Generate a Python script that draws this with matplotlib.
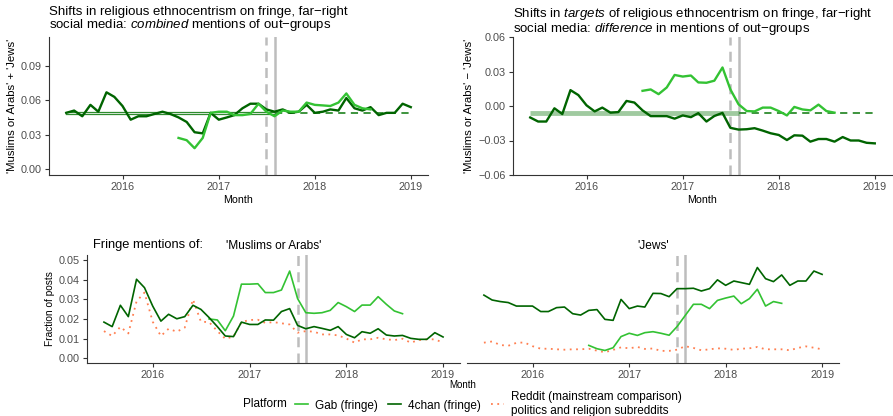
import numpy as np
import pandas as pd
import matplotlib
matplotlib.use('Agg')
import matplotlib.pyplot as plt
import matplotlib.dates as mdates
from matplotlib.lines import Line2D

plt.rcParams['font.family'] = ['Liberation Sans', 'DejaVu Sans']
plt.rcParams['mathtext.fontset'] = 'custom'
plt.rcParams['mathtext.rm'] = 'Liberation Sans'
plt.rcParams['mathtext.it'] = 'Liberation Sans:italic'

# monthly series
months_top = pd.date_range('2015-06-01', '2019-01-01', freq='MS')   # 44 months
months_bot = pd.date_range('2015-07-01', '2019-01-01', freq='MS')   # 43 months
months_gab = pd.date_range('2016-08-01', '2018-08-01', freq='MS')   # 25 months

# combined: 'Muslims or Arabs' + 'Jews'
comb_4chan = [0.049, 0.051, 0.046, 0.056, 0.050, 0.067, 0.063, 0.055, 0.043, 0.046,
              0.046, 0.048, 0.050, 0.048, 0.045, 0.041, 0.032, 0.031, 0.049, 0.043,
              0.045, 0.047, 0.053, 0.057, 0.057, 0.052, 0.050, 0.052, 0.049, 0.050,
              0.056, 0.049, 0.050, 0.052, 0.051, 0.062, 0.053, 0.051, 0.054, 0.047,
              0.049, 0.049, 0.057, 0.054]
comb_gab = [0.027, 0.025, 0.018, 0.027, 0.049, 0.050, 0.050, 0.047, 0.047, 0.048,
            0.057, 0.050, 0.046, 0.051, 0.050, 0.050, 0.058, 0.056, 0.0555, 0.055,
            0.058, 0.066, 0.056, 0.053, 0.052]
comb_pre = [0.0494, 0.0477]
comb_post = 0.049

# difference: 'Muslims or Arabs' - 'Jews'
diff_4chan = [-0.010, -0.0135, -0.0135, -0.002, -0.007, 0.0138, 0.0095, 0.0006, -0.0047, -0.0014,
              -0.0058, -0.0053, 0.0044, 0.003, -0.0038, -0.0088, -0.0088, -0.0088, -0.011, -0.0082,
              -0.0097, -0.0062, -0.0135, -0.0087, -0.006, -0.019, -0.0205, -0.0202, -0.0193, -0.0214,
              -0.0237, -0.0252, -0.0296, -0.0255, -0.0258, -0.031, -0.0287, -0.0287, -0.031, -0.027,
              -0.030, -0.030, -0.032, -0.0325]
diff_gab = [0.0132, 0.0144, 0.0103, 0.0161, 0.027, 0.0256, 0.0265, 0.0205, 0.0202, 0.022,
            0.0335, 0.0144, 0.0015, -0.0044, -0.0047, -0.0014, -0.0014, -0.0044, -0.0082, -0.0008,
            -0.003, -0.0038, 0.0012, -0.0044, -0.0058]
diff_ref = -0.006

# fraction of posts mentioning 'Muslims or Arabs'
mus_4chan = [0.0184, 0.0161, 0.027, 0.0212, 0.0403, 0.036, 0.0266, 0.0189, 0.0224, 0.0201,
             0.0212, 0.027, 0.0249, 0.0207, 0.0161, 0.0113, 0.011, 0.0184, 0.0172, 0.0172,
             0.0195, 0.0194, 0.0238, 0.0253, 0.0167, 0.015, 0.0161, 0.0152, 0.0142, 0.0161,
             0.0121, 0.0104, 0.0135, 0.0127, 0.015, 0.0118, 0.0113, 0.0116, 0.0101, 0.0096,
             0.0096, 0.013, 0.0108]
mus_gab = [0.020, 0.0195, 0.014, 0.0215, 0.0378, 0.0378, 0.038, 0.0335, 0.0335, 0.0348,
           0.0445, 0.0304, 0.0232, 0.0229, 0.0232, 0.0244, 0.0284, 0.0263, 0.0238, 0.0271,
           0.0271, 0.0314, 0.0275, 0.0241, 0.0227]
mus_reddit = [0.0138, 0.0113, 0.016, 0.0126, 0.029, 0.0335, 0.0186, 0.0113, 0.015, 0.0135,
              0.0156, 0.030, 0.0186, 0.0184, 0.0138, 0.0099, 0.011, 0.0184, 0.0195, 0.0196,
              0.018, 0.0184, 0.0178, 0.0172, 0.013, 0.0138, 0.0135, 0.0121, 0.0121, 0.0116,
              0.010, 0.0079, 0.0096, 0.0096, 0.0104, 0.0096, 0.0092, 0.0099, 0.0079, 0.0092,
              0.0096, 0.0096, 0.0079]

# fraction of posts mentioning 'Jews'
jew_4chan = [0.0322, 0.0297, 0.0289, 0.0284, 0.0266, 0.0266, 0.0266, 0.0238, 0.0238, 0.0258,
             0.0261, 0.0227, 0.022, 0.0244, 0.0248, 0.0198, 0.0193, 0.030, 0.0253, 0.0266,
             0.0261, 0.0331, 0.033, 0.0314, 0.0355, 0.0355, 0.0357, 0.0343, 0.0355, 0.040,
             0.0372, 0.0394, 0.0386, 0.0377, 0.0463, 0.0406, 0.0391, 0.0425, 0.0372, 0.0394,
             0.0394, 0.0445, 0.0428]
jew_gab = [0.0065, 0.0048, 0.0039, 0.0053, 0.011, 0.0127, 0.0116, 0.013, 0.0135, 0.0127,
           0.0117, 0.0161, 0.0218, 0.0275, 0.0275, 0.0253, 0.0295, 0.0307, 0.0317, 0.0278,
           0.0304, 0.0352, 0.0266, 0.0289, 0.028]
jew_reddit = [0.0079, 0.0085, 0.0067, 0.0063, 0.0078, 0.008, 0.0061, 0.0048, 0.0048, 0.0045,
              0.0043, 0.0045, 0.0045, 0.0048, 0.0038, 0.003, 0.0042, 0.0055, 0.005, 0.0057,
              0.0047, 0.0049, 0.0037, 0.0037, 0.0043, 0.0061, 0.0052, 0.004, 0.0045, 0.005,
              0.0048, 0.0042, 0.0048, 0.005, 0.0057, 0.0045, 0.0045, 0.0045, 0.004, 0.0052,
              0.006, 0.0053, 0.0045]

pre_end = pd.Timestamp('2017-07-01')     # dashed marker
event = pd.Timestamp('2017-08-01')       # solid marker

GAB = '#33C233'
CHAN = '#006400'
REDDIT = '#FF7F50'
REF = '#2E8B2E'
VGRAY = '#BDBDBD'
TICK = '#4D4D4D'

W, H = 893, 416
fig = plt.figure(figsize=(W / 100, H / 100), dpi=100)


def box(x0, y0, x1, y1):
    return [x0 / W, 1 - y1 / H, (x1 - x0) / W, (y1 - y0) / H]


def style(ax, months, lspine=True):
    span = (months[-1] - months[0]).days
    ax.set_xlim(months[0] - pd.Timedelta(days=span * 0.05), months[-1] + pd.Timedelta(days=span * 0.05))
    ax.xaxis.set_major_locator(mdates.YearLocator())
    ax.xaxis.set_major_formatter(mdates.DateFormatter('%Y'))
    for s in ['top', 'right']:
        ax.spines[s].set_visible(False)
    ax.spines['bottom'].set_color('#333333')
    ax.spines['left'].set_color('#333333')
    ax.spines['left'].set_visible(lspine)
    ax.tick_params(length=3, width=0.8, color='#333333', labelcolor=TICK, labelsize=7.8, pad=2)
    ax.axvline(pre_end, color=VGRAY, lw=1.8, ls=(0, (4, 2.5)), zorder=1)
    ax.axvline(event, color=VGRAY, lw=1.8, zorder=1)


def fmt(v, pos=None):
    return ('%.2f' % v).replace('-', '\u2212')


# combined mentions
ax1 = fig.add_axes(box(49, 37, 428, 175))
style(ax1, months_top)
for lvl in comb_pre:
    ax1.plot([months_top[0], event], [lvl, lvl], color=REF, lw=0.9, zorder=2)
ax1.plot([event, months_top[-1]], [comb_post, comb_post], color=REF, lw=1.3, ls=(0, (4, 3)), zorder=2)
ax1.plot(months_top, comb_4chan, color=CHAN, lw=1.7, zorder=3)
ax1.plot(months_gab, comb_gab, color=GAB, lw=1.7, zorder=4)
ax1.set_ylim(-0.0055, 0.1155)
ax1.set_yticks([0, 0.03, 0.06, 0.09])
ax1.yaxis.set_major_formatter(fmt)
ax1.set_xlabel('Month', fontsize=7.7, labelpad=2)
ax1.set_ylabel("'Muslims or Arabs' + 'Jews'", fontsize=8.2, labelpad=3)
fig.text(49 / W, 1 - 5.5 / H, 'Shifts in religious ethnocentrism on fringe, far\u2212right\n'
         'social media: $\\mathit{combined}$ mentions of out\u2212groups',
         fontsize=9.5, va='top', ha='left', linespacing=0.95)

# difference in mentions
ax2 = fig.add_axes(box(513, 37, 892, 175))
style(ax2, months_top)
ax2.plot([months_top[0], event], [diff_ref, diff_ref], color=REF, lw=3.5, alpha=0.45,
         solid_capstyle='butt', zorder=2)
ax2.plot([event, months_top[-1]], [diff_ref, diff_ref], color=REF, lw=1.3, ls=(0, (4, 3)), zorder=2)
ax2.plot(months_top, diff_4chan, color=CHAN, lw=1.7, zorder=3)
ax2.plot(months_gab, diff_gab, color=GAB, lw=1.7, zorder=4)
ax2.set_ylim(-0.06, 0.06)
ax2.set_yticks([-0.06, -0.03, 0, 0.03, 0.06])
ax2.yaxis.set_major_formatter(fmt)
ax2.set_xlabel('Month', fontsize=7.7, labelpad=2)
ax2.set_ylabel("'Muslims or Arabs' \u2212 'Jews'", fontsize=8.2, labelpad=3)
fig.text(513 / W, 1 - 5.5 / H, 'Shifts in $\\mathit{targets}$ of religious ethnocentrism on fringe, far\u2212right\n'
         'social media: $\\mathit{difference}$ in mentions of out\u2212groups',
         fontsize=9.5, va='top', ha='left', linespacing=0.95)

# fringe mentions by group
ax3 = fig.add_axes(box(87, 255, 460, 363))
ax4 = fig.add_axes(box(467, 255, 839, 363), sharey=ax3)
panels = [(ax3, mus_4chan, mus_gab, mus_reddit, "'Muslims or Arabs'"),
          (ax4, jew_4chan, jew_gab, jew_reddit, "'Jews'")]
for ax, chan, gab, red, name in panels:
    style(ax, months_bot, lspine=(ax is ax3))
    ax.plot(months_bot, red, color=REDDIT, lw=1.3, ls=(0, (1, 2.5)), zorder=2)
    ax.plot(months_gab, gab, color=GAB, lw=1.2, zorder=3)
    ax.plot(months_bot, chan, color=CHAN, lw=1.2, zorder=4)
    ax.set_title(name, fontsize=8.6, pad=4)
ax3.set_ylim(-0.0025, 0.0527)
ax3.set_yticks([0, 0.01, 0.02, 0.03, 0.04, 0.05])
ax3.yaxis.set_major_formatter(fmt)
ax3.set_ylabel('Fraction of posts', fontsize=7.3, labelpad=3)
ax4.tick_params(axis='y', left=False, labelleft=False)
fig.text(463 / W, 1 - 385 / H, 'Month', fontsize=7, ha='center', va='center')
fig.text(93 / W, 1 - 245 / H, 'Fringe mentions of:', fontsize=9.3, ha='left', va='center')

# legend
fig.text(243 / W, 1 - 404 / H, 'Platform', fontsize=8.5, ha='left', va='center')
handles = [Line2D([], [], color=GAB, lw=1.2),
           Line2D([], [], color=CHAN, lw=1.2),
           Line2D([], [], color=REDDIT, lw=1.3, ls=(0, (1, 2.5)))]
labels = ['Gab (fringe)', '4chan (fringe)',
          'Reddit (mainstream comparison)\npolitics and religion subreddits']
fig.legend(handles, labels, loc='center left', bbox_to_anchor=(295 / W, 1 - 404 / H),
           ncol=3, frameon=False, fontsize=8.5, handlelength=1.1, handletextpad=0.6,
           columnspacing=0.85, borderpad=0, borderaxespad=0)

fig.savefig('out.png', dpi=100)
